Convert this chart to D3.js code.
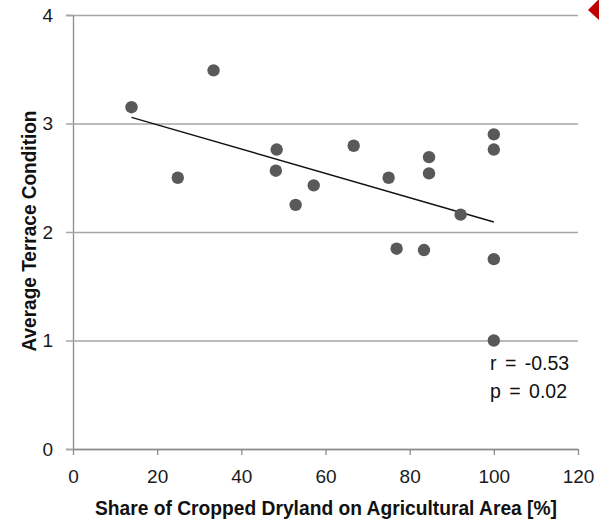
<!DOCTYPE html>
<html>
<head>
<meta charset="utf-8">
<script src="https://cdn.jsdelivr.net/npm/d3@7"></script>
<style>
    body { margin: 0; background: #fff; }
    text { font-family: "Liberation Sans", Arial, sans-serif; }
</style>
</head>
<body>
<svg id="chart" width="599" height="523"></svg>
<script>
/*************************************** data ***************************/
let dryland = [13.9, 24.9, 33.4, 48.4, 48.2, 52.9, 57.2, 66.7, 75.0, 76.9, 83.4, 84.6, 84.6, 92.1, 100, 100, 100, 100]
let terrace = [3.15, 2.50, 3.49, 2.76, 2.565, 2.25, 2.43, 2.795, 2.50, 1.846, 1.834, 2.69, 2.54, 2.16, 2.90, 2.76, 1.75, 1.00]
let trendX = [13.9, 100]
let trendY = [3.057, 2.092]
let xTicks = [0, 20, 40, 60, 80, 100, 120]
let yTicks = [0, 1, 2, 3, 4]
let statLines = ["r = -0.53", "p = 0.02"]

const width = 599, height = 523
const margin = { top: 15, right: 21, bottom: 74, left: 73 }
const svg = d3.select("#chart")

let xScale = d3.scaleLinear()
    .domain([0, 120])
    .range([margin.left, width - margin.right])
let yScale = d3.scaleLinear()
    .domain([0, 4])
    .range([height - margin.bottom, margin.top])

// horizontal gridlines (with the small tick to the left of the axis)
svg.append("g")
    .attr("class", "grid")
    .attr("transform", "translate(" + margin.left + ",0)")
    .call(d3.axisLeft(yScale).tickValues(yTicks).tickSize(7).tickPadding(13).tickFormat(d3.format("d")))
    .call(g => g.select(".domain").attr("stroke", "#8c8c8c").attr("stroke-width", 1.3))
    .call(g => g.selectAll(".tick line").attr("stroke", "#a6a6a6").attr("stroke-width", 1.5)
        .attr("x2", -7).attr("x1", xScale(120) - margin.left))
    .call(g => g.selectAll(".tick text").attr("font-size", "19px").attr("fill", "#1a1a1a"))

// x axis
svg.append("g")
    .attr("class", "x axis")
    .attr("transform", "translate(0," + yScale(0) + ")")
    .call(d3.axisBottom(xScale).tickValues(xTicks).tickSize(6).tickPadding(15).tickSizeOuter(0))
    .call(g => g.select(".domain").attr("stroke", "#8c8c8c").attr("stroke-width", 1.3))
    .call(g => g.selectAll(".tick line").attr("stroke", "#8c8c8c").attr("stroke-width", 1.3))
    .call(g => g.selectAll(".tick text").attr("font-size", "19px").attr("fill", "#1a1a1a"))

// axis titles
svg.append("text")
    .attr("x", 326)
    .attr("y", 515)
    .attr("text-anchor", "middle")
    .attr("font-size", "19.5px")
    .attr("font-weight", "bold")
    .attr("textLength", 462)
    .attr("lengthAdjust", "spacingAndGlyphs")
    .attr("fill", "#111")
    .text("Share of Cropped Dryland on Agricultural Area [%]")

svg.append("text")
    .attr("transform", "translate(36,231) rotate(-90)")
    .attr("text-anchor", "middle")
    .attr("font-size", "19.5px")
    .attr("font-weight", "bold")
    .attr("textLength", 241)
    .attr("lengthAdjust", "spacingAndGlyphs")
    .attr("fill", "#111")
    .text("Average Terrace Condition")

// regression line
let lineGenerator = d3.line()
    .x(d => xScale(d[0]))
    .y(d => yScale(d[1]))
svg.append("path")
    .datum(d3.zip(trendX, trendY))
    .attr("d", lineGenerator)
    .attr("stroke", "#111")
    .attr("stroke-width", 1.4)
    .attr("fill", "none")

// points
svg.selectAll(".dot")
    .data(d3.zip(dryland, terrace))
    .enter()
    .append("circle")
    .attr("class", "dot")
    .attr("cx", d => xScale(d[0]))
    .attr("cy", d => yScale(d[1]))
    .attr("r", 6.2)
    .attr("fill", "#595959")

// r / p annotation
svg.selectAll(".stat")
    .data(statLines)
    .enter()
    .append("text")
    .attr("class", "stat")
    .attr("x", xScale(99.1))
    .attr("y", (d, i) => yScale(0.728) + i * 28)
    .attr("font-size", "19.5px")
    .attr("word-spacing", "3px")
    .attr("fill", "#111")
    .text(d => d)

// red marker cut by the top right corner
svg.append("path")
    .attr("d", "M588,10 L598,0 L599,0 L599,20 Z")
    .attr("fill", "#c00000")
</script>
</body>
</html>
